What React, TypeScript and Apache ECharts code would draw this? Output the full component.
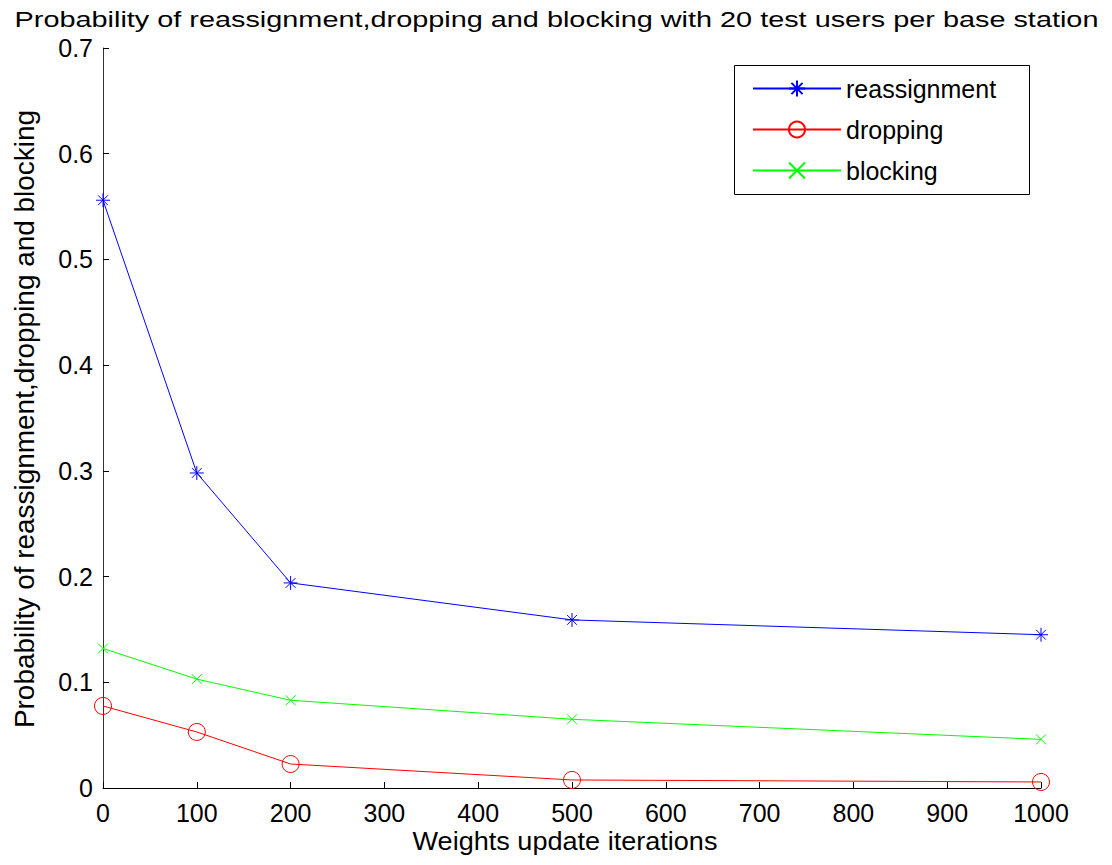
import React, { useEffect, useRef } from "react";
import * as echarts from "echarts";

const iterations = [0, 100, 200, 500, 1000];
const reassignment = [0.556, 0.298, 0.194, 0.159, 0.145];
const dropping = [0.0776, 0.053, 0.0227, 0.0076, 0.0057];
const blocking = [0.132, 0.103, 0.083, 0.065, 0.046];

const titleText =
  "Probability of reassignment,dropping and blocking with 20 test users per base station";
const xName = "Weights update iterations";
const yName = "Probability of reassignment,dropping and blocking";
const legendNames = ["reassignment", "dropping", "blocking"];

const FONT = "Liberation Sans, Arial, sans-serif";

const asterisk =
  "path://M0,-10 L0,10 M-10,0 L10,0 M-7,-7 L7,7 M-7,7 L7,-7";
const cross = "path://M-10,-10 L10,10 M-10,10 L10,-10";

function toPairs(ys: number[]) {
  return iterations.map((x, i) => [x, ys[i]]);
}

function measure(text: string, size: number): number {
  const c = document.createElement("canvas");
  const ctx = c.getContext("2d");
  if (!ctx) return text.length * size * 0.5;
  ctx.font = `${size}px ${FONT}`;
  return ctx.measureText(text).width;
}

export default function App() {
  const ref = useRef<HTMLDivElement>(null);
  useEffect(() => {
    if (!ref.current) return;
    const chart = echarts.init(ref.current, null, { renderer: "svg" });

    const titleSize = 23;
    const titleScale = 1085 / measure(titleText, titleSize);
    const xNameSize = 25;
    const xNameScale = 305 / measure(xName, xNameSize);
    const yNameSize = 28;
    const yNameScale = 618 / measure(yName, yNameSize);

    chart.setOption({
      animation: false,
      backgroundColor: "#ffffff",
      textStyle: { fontFamily: FONT },
      grid: { left: 103, top: 48, right: 71, bottom: 77, containLabel: false },
      xAxis: {
        type: "value",
        min: 0,
        max: 1000,
        interval: 100,
        axisLine: { lineStyle: { color: "#000", width: 1 } },
        axisTick: { inside: true, length: 6, lineStyle: { color: "#000" } },
        axisLabel: {
          fontFamily: FONT,
          fontSize: 25,
          color: "#000",
          margin: 12,
          formatter: (v: number) => String(v),
        },
        splitLine: { show: false },
      },
      yAxis: {
        type: "value",
        min: 0,
        max: 0.7,
        interval: 0.1,
        axisLine: { show: true, lineStyle: { color: "#333", width: 1 } },
        axisTick: { show: true, inside: true, length: 6, lineStyle: { color: "#000" } },
        axisLabel: { fontFamily: FONT, fontSize: 25, color: "#000", margin: 10 },
        splitLine: { show: false },
      },
      legend: {
        orient: "vertical",
        left: 752,
        top: 76,
        padding: 0,
        itemWidth: 88,
        itemHeight: 20,
        itemGap: 16,
        textStyle: { fontFamily: FONT, fontSize: 25, color: "#000" },
        data: legendNames,
      },
      graphic: [
        {
          type: "text",
          x: 556.5,
          y: 19,
          scaleX: titleScale,
          style: {
            text: titleText,
            font: `${titleSize}px ${FONT}`,
            fill: "#000",
            align: "center",
            verticalAlign: "middle",
          },
        },
        {
          type: "text",
          x: 565,
          y: 841,
          scaleX: xNameScale,
          style: {
            text: xName,
            font: `${xNameSize}px ${FONT}`,
            fill: "#000",
            align: "center",
            verticalAlign: "middle",
          },
        },
        {
          type: "text",
          x: 24,
          y: 419,
          rotation: Math.PI / 2,
          scaleX: yNameScale,
          style: {
            text: yName,
            font: `${yNameSize}px ${FONT}`,
            fill: "#000",
            align: "center",
            verticalAlign: "middle",
          },
        },
        {
          type: "rect",
          shape: { x: 734.5, y: 65.5, width: 295, height: 129 },
          style: { fill: "none", stroke: "#000", lineWidth: 1 },
          z: 100,
        },
      ],
      series: [
        {
          name: legendNames[0],
          type: "line",
          data: toPairs(reassignment),
          symbol: asterisk,
          symbolSize: 14,
          lineStyle: { color: "#0000ff", width: 1 },
          itemStyle: { color: "#0000ff", borderColor: "#0000ff", borderWidth: 1 },
        },
        {
          name: legendNames[1],
          type: "line",
          data: toPairs(dropping),
          symbol: "circle",
          symbolSize: 17,
          lineStyle: { color: "#ff0000", width: 1 },
          itemStyle: { color: "transparent", borderColor: "#ff0000", borderWidth: 1 },
        },
        {
          name: legendNames[2],
          type: "line",
          data: toPairs(blocking),
          symbol: cross,
          symbolSize: 10,
          lineStyle: { color: "#00ff00", width: 1 },
          itemStyle: { color: "#00ff00", borderColor: "#00ff00", borderWidth: 1 },
        },
      ],
    });
    return () => chart.dispose();
  }, []);
  return (
    <div
      ref={ref}
      style={{ position: "absolute", left: 0, top: 0, width: 1112, height: 865 }}
    />
  );
}
